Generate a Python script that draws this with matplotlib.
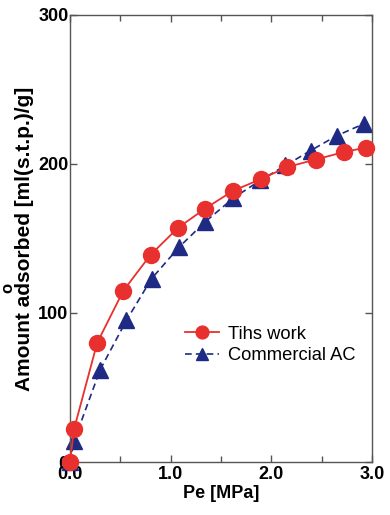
import numpy as np
import matplotlib.pyplot as plt
from matplotlib.ticker import MultipleLocator

# this work (red circles)
pe_this = [0.0, 0.04, 0.27, 0.53, 0.80, 1.07, 1.34, 1.62, 1.90, 2.16, 2.44, 2.72, 2.94]
ads_this = [0, 22, 80, 115, 139, 157, 170, 182, 190, 198, 203, 208, 211]

# commercial AC (blue triangles)
pe_ac = [0.0, 0.04, 0.30, 0.56, 0.81, 1.08, 1.34, 1.62, 1.89, 2.14, 2.39, 2.65, 2.92]
ads_ac = [0, 14, 62, 95, 123, 144, 161, 177, 189, 199, 209, 219, 227]

xticks = [0, 1, 2, 3]
xtick_labels = ['0.0', '1.0', '2.0', '3.0']

plt.rcParams['font.family'] = ['Liberation Sans', 'DejaVu Sans']

fig = plt.figure(figsize=(3.9, 5.15), dpi=100)
ax = fig.add_axes([0.1795, 0.1029, 0.7744, 0.868])

ax.plot(pe_ac, ads_ac, '--', color='#1f2a84', marker='^', markersize=11,
        lw=1.2, dashes=(4, 2.5), label='Commercial AC', zorder=2, clip_on=False)
ax.plot(pe_this, ads_this, '-', color='#e8302e', marker='o', markersize=11.5,
        lw=1.3, label='Tihs work', zorder=3, clip_on=False)

ax.set_xlim(0, 3.0)
ax.set_ylim(0, 300)
ax.set_xticks(xticks)
ax.set_xticklabels(xtick_labels)
ax.xaxis.set_minor_locator(MultipleLocator(0.5))
ax.yaxis.set_major_locator(MultipleLocator(100))

ax.tick_params(which='both', direction='in', top=True, right=True,
               color='#555555', width=1)
ax.tick_params(which='major', length=5, labelsize=13, pad=3)
ax.tick_params(which='minor', length=4)
ax.tick_params(axis='y', pad=1)
for lab in ax.get_xticklabels() + ax.get_yticklabels():
    lab.set_fontweight('bold')

for s in ax.spines.values():
    s.set_color('#555555')
    s.set_linewidth(1)

ax.set_xlabel('Pe [MPa]', fontsize=13, fontweight='bold', labelpad=1)
ax.set_ylabel('Amount adsorbed [ml(s.t.p.)/g]', fontsize=15, fontweight='bold',
              labelpad=3)

h, l = ax.get_legend_handles_labels()
ax.legend(h[::-1], l[::-1], loc='center left', bbox_to_anchor=(0.325, 0.262),
          frameon=False, fontsize=13.2, handlelength=1.9, handletextpad=0.45,
          labelspacing=0.25, markerscale=0.8)

fig.text(0.0, 0.44, 'o', fontsize=12, fontweight='bold', rotation=90,
         ha='left', va='center')

fig.savefig('out.png', dpi=100)
